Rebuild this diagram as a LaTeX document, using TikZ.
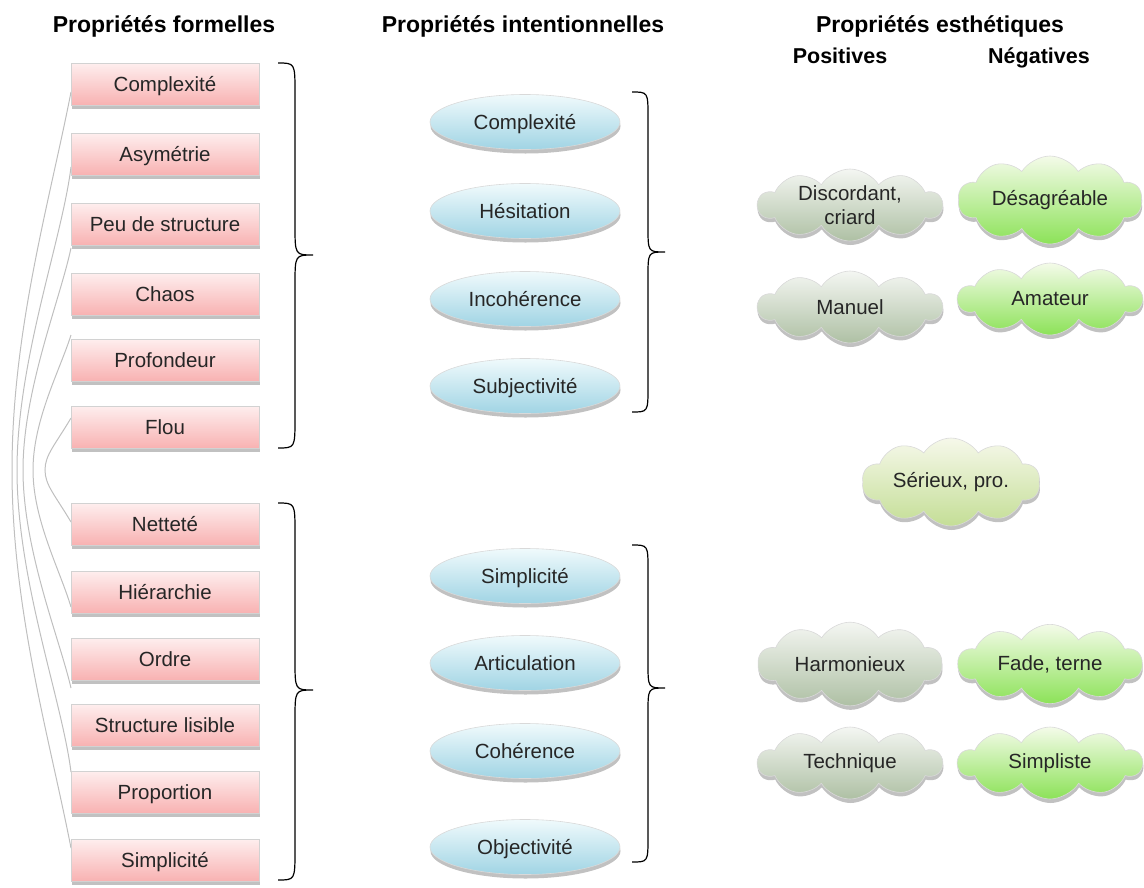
\documentclass[tikz,border=0pt]{standalone}
\usepackage{fontspec}
\setmainfont{Liberation Sans}
\usetikzlibrary{shapes.geometric,shapes.symbols,shadows}
\definecolor{pinkTop}{RGB}{254,238,238}
\definecolor{pinkBot}{RGB}{248,178,178}
\definecolor{blueTop}{RGB}{240,250,252}
\definecolor{blueBot}{RGB}{160,212,228}
\definecolor{posTop}{RGB}{244,246,242}
\definecolor{posBot}{RGB}{174,192,164}
\definecolor{negTop}{RGB}{244,251,233}
\definecolor{negBot}{RGB}{140,226,88}
\definecolor{midTop}{RGB}{246,248,234}
\definecolor{midBot}{RGB}{196,222,150}
\begin{document}
\begin{tikzpicture}[x=1pt,y=-1pt,
  every node/.style={font=\fontsize{20.5}{24}\selectfont, text=black!85},
  ttl/.style={font=\bfseries\fontsize{23}{27}\selectfont, text=black, anchor=base},
  subttl/.style={font=\bfseries\fontsize{21.5}{25}\selectfont, text=black, anchor=base},
  shad/.style={drop shadow={shadow xshift=0.5pt, shadow yshift=-4pt, opacity=0.35, fill=black!70}},
  fixh/.style={text height=17.5pt, text depth=3pt},
  fbox/.style={rectangle, minimum width=188pt, minimum height=42pt, inner sep=0pt, fixh,
    top color=pinkTop, bottom color=pinkBot, draw=gray!35, line width=0.6pt, shad},
  iell/.style={ellipse, minimum width=190pt, minimum height=55pt, inner sep=0pt, fixh,
    top color=blueTop, bottom color=blueBot, draw=gray!30, line width=0.6pt, shad},
  cloudbase/.style={cloud, cloud puffs=10, cloud puff arc=115, aspect=2.6,
    minimum width=184pt, minimum height=72pt, inner sep=0pt, align=center,
    draw=gray!30, line width=0.6pt, shad},
  poscloud/.style={cloudbase, top color=posTop, bottom color=posBot},
  negcloud/.style={cloudbase, top color=negTop, bottom color=negBot},
  midcloud/.style={cloudbase, top color=midTop, bottom color=midBot},
  conn/.style={draw=gray!50, line width=1pt},
  brc/.style={draw=black, line width=1.2pt}
]
\useasboundingbox (0,0) rectangle (1144,887);

% titles
\node[ttl] (t1) at (164,32) {Propriétés formelles};
\node[ttl] (t2) at (523,32) {Propriétés intentionnelles};
\node[ttl] (t3) at (940,32) {Propriétés esthétiques};
\node[subttl] (t4) at (840,63) {Positives};
\node[subttl] (t5) at (1039,63) {Négatives};

% connector end points
\coordinate (a1) at (71,92);
\coordinate (a2) at (71,167);
\coordinate (a3) at (71,248);
\coordinate (a5) at (71,335);
\coordinate (a6) at (71,418);
\coordinate (b6) at (71,522);
\coordinate (b5) at (71,607);
\coordinate (b3) at (71,688);
\coordinate (b2) at (71,772);
\coordinate (b1) at (71,848);
\coordinate (m1) at (12,470);
\coordinate (m2) at (17,470);
\coordinate (m3) at (23,470);
\coordinate (m5) at (33,470);
\coordinate (m6) at (45,470);

\draw[conn] (a1) .. controls (50,200) and (12,330) .. (m1) .. controls (12,610) and (50,740) .. (b1);
\draw[conn] (a2) .. controls (62,240) and (17,360) .. (m2) .. controls (17,580) and (62,700) .. (b2);
\draw[conn] (a3) .. controls (60,300) and (23,390) .. (m3) .. controls (23,550) and (60,640) .. (b3);
\draw[conn] (a5) .. controls (60,370) and (33,420) .. (m5) .. controls (33,520) and (60,570) .. (b5);
\draw[conn] (a6) .. controls (55,445) and (45,455) .. (m6) .. controls (45,485) and (55,495) .. (b6);

% formal properties
\node[fbox] (f1) at (165,84) {Complexité};
\node[fbox] (f2) at (165,154) {Asymétrie};
\node[fbox] (f3) at (165,224) {Peu de structure};
\node[fbox] (f4) at (165,294) {Chaos};
\node[fbox] (f5) at (165,360) {Profondeur};
\node[fbox] (f6) at (165,427) {Flou};
\node[fbox] (f7) at (165,524) {Netteté};
\node[fbox] (f8) at (165,592) {Hiérarchie};
\node[fbox] (f9) at (165,659) {Ordre};
\node[fbox] (f10) at (165,725) {Structure lisible};
\node[fbox] (f11) at (165,792) {Proportion};
\node[fbox] (f12) at (165,860) {Simplicité};

% braces
\draw[brc] (278,63) .. controls (295,63) .. (295,93) -- (295,225) .. controls (295,255) .. (313,255)
  .. controls (295,255) .. (295,285) -- (295,418) .. controls (295,448) .. (278,448);
\draw[brc] (278,503) .. controls (295,503) .. (295,533) -- (295,660) .. controls (295,690) .. (313,690)
  .. controls (295,690) .. (295,720) -- (295,850) .. controls (295,880) .. (278,880);
\draw[brc] (632,92) .. controls (648,92) .. (648,117) -- (648,227) .. controls (648,252) .. (665,252)
  .. controls (648,252) .. (648,277) -- (648,387) .. controls (648,412) .. (632,412);
\draw[brc] (632,545) .. controls (648,545) .. (648,570) -- (648,663) .. controls (648,688) .. (665,688)
  .. controls (648,688) .. (648,713) -- (648,837) .. controls (648,862) .. (632,862);

% intentional properties
\node[iell] (i1) at (525,122) {Complexité};
\node[iell] (i2) at (525,211) {Hésitation};
\node[iell] (i3) at (525,299) {Incohérence};
\node[iell] (i4) at (525,386) {Subjectivité};
\node[iell] (i5) at (525,576) {Simplicité};
\node[iell] (i6) at (525,663) {Articulation};
\node[iell] (i7) at (525,751) {Cohérence};
\node[iell] (i8) at (525,847) {Objectivité};

% aesthetic properties
\node[poscloud, label={[align=center, font=\fontsize{20.5}{24}\selectfont, text=black!85]center:Discordant,\\criard}] (p1) at (850,205) {};
\node[negcloud] (n1) at (1050,200) {Désagréable};
\node[poscloud] (p2) at (850,307) {Manuel};
\node[negcloud] (n2) at (1050,299) {Amateur};
\node[midcloud, minimum width=178pt] (s1) at (951,482) {Sérieux, pro.};
\node[poscloud] (p3) at (850,664) {Harmonieux};
\node[negcloud] (n3) at (1050,664) {Fade, terne};
\node[poscloud] (p4) at (850,763) {Technique};
\node[negcloud] (n4) at (1050,763) {Simpliste};
\end{tikzpicture}
\end{document}
